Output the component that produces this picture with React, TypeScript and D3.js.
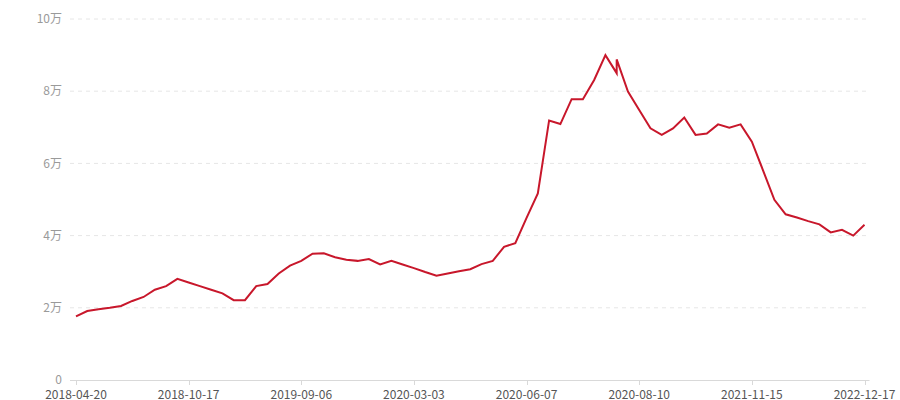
import React from "react";
import * as d3 from "d3";

// category index of each data point (index 48 appears twice in the source data)
const pointCategory = [
  0, 1, 2, 3, 4, 5, 6, 7, 8, 9,
  10, 11, 12, 13, 14, 15, 16, 17, 18, 19,
  20, 21, 22, 23, 24, 25, 26, 27, 28, 29,
  30, 31, 32, 33, 34, 35, 36, 37, 38, 39,
  40, 41, 42, 43, 44, 45, 46, 47, 48, 48,
  49, 50, 51, 52, 53, 54, 55, 56, 57, 58,
  59, 60, 61, 62, 63, 64, 65, 66, 67, 68,
  69, 70,
];

const values = [
  17600, 19100, 19600, 20000, 20500, 21900, 23000, 25000, 26000, 28000,
  27000, 26000, 25000, 24000, 22100, 22100, 26000, 26600, 29500, 31700,
  33000, 35000, 35100, 34000, 33300, 33000, 33500, 32000, 33000, 32000,
  31000, 29900, 28900, 29500, 30100, 30700, 32100, 33000, 36900, 37900,
  44900, 51700, 71900, 70900, 77800, 77800, 83100, 90000, 85000, 88800,
  79900, 74800, 69700, 67900, 69700, 72700, 67900, 68300, 70800, 69900,
  70800, 66000, 58000, 49900, 45900, 45000, 44000, 43100, 40900, 41600,
  40000, 43000,
];

const categoryCount = 71;
const tickLabels = [
  "2018-04-20", "2018-10-17", "2019-09-06", "2020-03-03",
  "2020-06-07", "2020-08-10", "2021-11-15", "2022-12-17",
];
const tickCategories = [0, 10, 20, 30, 40, 50, 60, 70];
const yTicks = [0, 20000, 40000, 60000, 80000, 100000];

const FONT = "'Noto Sans CJK SC', 'Microsoft YaHei', sans-serif";

export default function App() {
  const width = 900;
  const height = 400;
  const axisLeft = 70;
  const axisRight = 869.5;
  const x = d3
    .scalePoint<number>()
    .domain(d3.range(categoryCount))
    .range([76, 864.5]);
  const y = d3.scaleLinear().domain([0, 100000]).range([380, 19]);

  const pts: [number, number][] = values.map((v, i) => [pointCategory[i], v]);
  const line = d3
    .line<[number, number]>()
    .x((d) => x(d[0]) as number)
    .y((d) => y(d[1]));

  const fmtY = (v: number) => (v === 0 ? "0" : `${v / 10000}万`);

  return (
    <svg
      width={width}
      height={height}
      style={{ position: "absolute", left: 0, top: 0, background: "#fff" }}
    >
      {yTicks.map((t) => (
        <g key={t}>
          {t !== 0 && (
            <line
              x1={axisLeft}
              x2={axisRight}
              y1={y(t)}
              y2={y(t)}
              stroke="#e6e6e6"
              strokeWidth={1}
              strokeDasharray="4,4"
            />
          )}
          <text
            x={62}
            y={y(t)}
            dy="0.35em"
            textAnchor="end"
            fontSize={12}
            fontFamily={FONT}
            fill="#9a9a9a"
          >
            {fmtY(t)}
          </text>
        </g>
      ))}
      <line
        x1={axisLeft}
        x2={axisRight}
        y1={380.5}
        y2={380.5}
        stroke="#d9d9d9"
        strokeWidth={1}
      />
      {tickCategories.map((c, i) => (
        <g key={c}>
          <line
            x1={Math.round(x(c) as number) + 0.5}
            x2={Math.round(x(c) as number) + 0.5}
            y1={380}
            y2={385}
            stroke="#d9d9d9"
          />
          <text
            x={x(c) as number}
            y={395}
            dy="0.35em"
            textAnchor="middle"
            fontSize={12}
            fontFamily={FONT}
            fill="#555"
          >
            {tickLabels[i]}
          </text>
        </g>
      ))}
      <path
        d={line(pts) || ""}
        fill="none"
        stroke="#c8172b"
        strokeWidth={2}
        strokeLinejoin="miter"
      />
    </svg>
  );
}
